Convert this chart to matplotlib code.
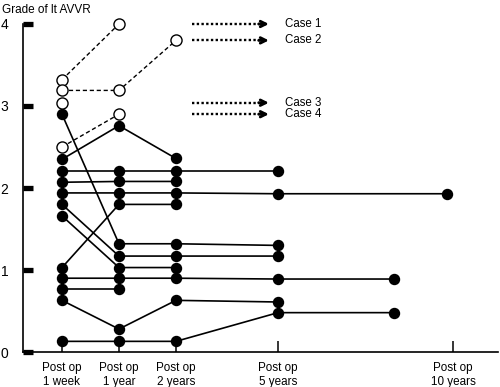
import matplotlib
matplotlib.use("Agg")
from matplotlib import pyplot as plt

plt.rcParams['font.family'] = ['Liberation Sans', 'DejaVu Sans']

# follow-up time points (positions along the x axis)
tick_pos = [1, 2, 3, 4.79, 7.86]
tick_labels = ["Post op\n1 week", "Post op\n1 year", "Post op\n2 years",
               "Post op\n5 years", "Post op\n10 years"]

# filled circles, solid lines: each patient's grade over time
solid_x = [
    [1, 2, 3, 4.79],
    [1, 2, 3],
    [1, 2, 3, 4.79],
    [1, 2, 3],
    [1, 2, 3, 4.79, 7.75],
    [1, 2, 3, 4.79],
    [1, 2, 3],
    [1, 2, 3],
    [1, 2, 3, 4.79, 6.82],
    [1, 2],
    [1, 2, 3, 4.79],
    [1, 2, 3, 4.79, 6.82],
]
solid_y = [
    [2.90, 1.32, 1.32, 1.30],
    [2.35, 2.76, 2.36],
    [2.21, 2.21, 2.21, 2.21],
    [2.07, 2.08, 2.08],
    [1.94, 1.94, 1.94, 1.93, 1.93],
    [1.80, 1.17, 1.17, 1.17],
    [1.66, 1.03, 1.03],
    [1.03, 1.80, 1.80],
    [0.90, 0.90, 0.90, 0.89, 0.89],
    [0.77, 0.77],
    [0.63, 0.28, 0.63, 0.61],
    [0.13, 0.13, 0.13, 0.48, 0.48],
]

# open circles, dashed lines: the four cases
case_names = ["Case 1", "Case 2", "Case 3", "Case 4"]
case_x = [[1, 2], [1, 2, 3], [1], [1, 2]]
case_y = [[3.32, 4.00], [3.19, 3.19, 3.80], [3.04], [2.50, 2.90]]

fig = plt.figure(figsize=(5, 3.87), dpi=100)
ax = fig.add_axes([0.046, 0.0904, 0.95, 0.8476])

for xs, ys in zip(solid_x, solid_y):
    ax.plot(xs, ys, color='black', lw=1.2, marker='o', markersize=7.2,
            mfc='black', mec='black', clip_on=False)

for xs, ys in zip(case_x, case_y):
    ax.plot(xs, ys, color='black', lw=1.0, linestyle=(0, (3, 2)), marker='o',
            markersize=8, mfc='white', mec='black', mew=1.0, clip_on=False)

# dotted arrows pointing to the case labels
for name, ys in zip(case_names, case_y):
    yv = ys[-1]
    ax.plot([3.28, 4.52], [yv, yv], color='black', lw=1.7,
            linestyle=(0, (1, 1)), clip_on=False)
    ax.annotate('', xy=(4.63, yv), xytext=(4.45, yv),
                arrowprops=dict(arrowstyle='->', color='black', lw=2.0,
                                mutation_scale=10, shrinkA=0, shrinkB=0),
                annotation_clip=False)
    ax.text(4.91, yv, name, fontsize=8.3, va='center', ha='left')

ax.set_xlim(0.316, 8.65)
ax.set_ylim(0, 4)
ax.set_xticks(tick_pos)
ax.set_xticklabels(tick_labels, fontsize=8.4, linespacing=1.25)
ax.set_yticks([0, 1, 2, 3, 4])
ax.set_yticklabels(['0', '1', '2', '3', '4'], fontsize=10)

for s in ['top', 'right']:
    ax.spines[s].set_visible(False)
for s in ['left', 'bottom']:
    ax.spines[s].set_linewidth(1.2)

ax.tick_params(axis='y', direction='in', length=7.2, width=3.8, pad=10.5)
ax.tick_params(axis='x', direction='in', length=8, width=1.1, pad=7)

fig.text(0.004, 1 - 10 / 387, "Grade of lt AVVR", fontsize=8.5,
         va='center', ha='left')

fig.savefig("out.png", dpi=100)
